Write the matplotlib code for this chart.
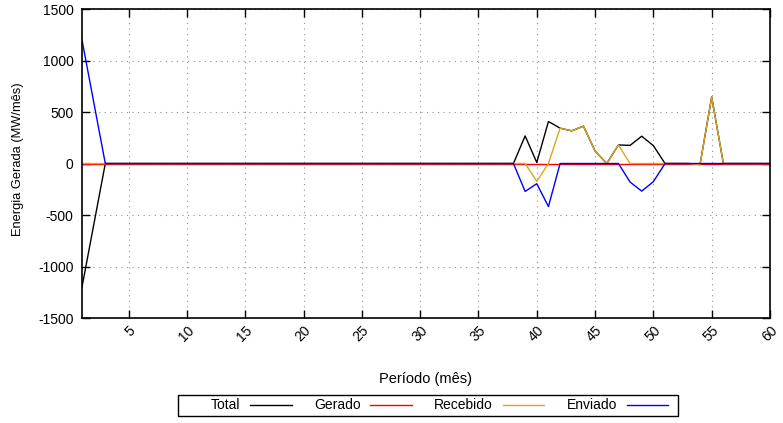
import matplotlib
matplotlib.use('Agg')
import matplotlib.pyplot as plt
from matplotlib.patches import Rectangle

plt.rcParams['font.family'] = ['Liberation Sans', 'DejaVu Sans']
plt.rcParams['font.size'] = 10
plt.rcParams['axes.unicode_minus'] = False

# periodo (mes) 1..60
meses = list(range(1, 61))

total = [-1200, -600, 0, 0, 0, 0, 0, 0, 0, 0,
         0, 0, 0, 0, 0, 0, 0, 0, 0, 0,
         0, 0, 0, 0, 0, 0, 0, 0, 0, 0,
         0, 0, 0, 0, 0, 0, 0, 0, 268, 10,
         408, 343, 317, 363, 121, 0, 180, 176, 265, 173,
         0, 0, 0, -10, 647, 0, 0, 0, 0, 0]

gerado = [0] * 60

recebido = [0, 0, 0, 0, 0, 0, 0, 0, 0, 0,
            0, 0, 0, 0, 0, 0, 0, 0, 0, 0,
            0, 0, 0, 0, 0, 0, 0, 0, 0, 0,
            0, 0, 0, 0, 0, 0, 0, 0, 0, -173,
            0, 343, 317, 363, 121, 0, 180, 0, 0, 0,
            0, 0, 0, -10, 647, 0, 0, 0, 0, 0]

enviado = [1200, 600, 0, 0, 0, 0, 0, 0, 0, 0,
           0, 0, 0, 0, 0, 0, 0, 0, 0, 0,
           0, 0, 0, 0, 0, 0, 0, 0, 0, 0,
           0, 0, 0, 0, 0, 0, 0, 0, -271, -196,
           -418, 0, 0, 0, 0, 0, 0, -180, -268, -176,
           0, 0, 0, 0, 0, 0, 0, 0, 0, 0]

xticks = list(range(5, 61, 5))
yticks = list(range(-1500, 1501, 500))

fig = plt.figure(figsize=(7.83, 4.23), dpi=100)
ax = fig.add_axes([0.1047, 0.2482, 0.9834 - 0.1047, 0.9787 - 0.2482])

ax.plot(meses, total, color='black', lw=1, label='Total')
ax.plot(meses, gerado, color='#ff0000', lw=1, label='Gerado')
ax.plot(meses, recebido, color='#daa520', lw=1, label='Recebido')
ax.plot(meses, enviado, color='#0000ff', lw=1, label='Enviado')

ax.set_xlim(1, 60)
ax.set_ylim(-1500, 1500)
ax.set_xticks(xticks)
ax.set_yticks(yticks)
ax.set_xticklabels([str(t) for t in xticks], rotation=45, ha='right',
                   rotation_mode='anchor')
ax.tick_params(direction='in', length=6, width=1, top=True, right=True,
               labelsize=10, pad=6)
ax.tick_params(axis='x', pad=4)
ax.grid(True, linestyle=(0, (1, 4)), color='#909090', lw=0.8)
for s in ax.spines.values():
    s.set_linewidth(1.2)

ax.set_xlabel('Período (mês)', fontsize=10.5, labelpad=20)
ax.set_ylabel('Energia Gerada (MW/mês)', fontsize=9.3)
ax.yaxis.set_label_coords(-0.084, 0.515)

# legenda estilo gnuplot: texto antes da linha, caixa mais larga
leg = fig.legend(loc='center', bbox_to_anchor=(0.5613, 0.0414), ncol=4,
                 markerfirst=False, handlelength=3.0, handletextpad=0.7,
                 columnspacing=1.6, frameon=False, fontsize=10)
fig.patches.append(Rectangle((178 / 783, 1 - 416 / 423), 500 / 783, 21 / 423,
                             transform=fig.transFigure, fill=False,
                             edgecolor='black', lw=1))

plt.savefig('out.png', dpi=100)
